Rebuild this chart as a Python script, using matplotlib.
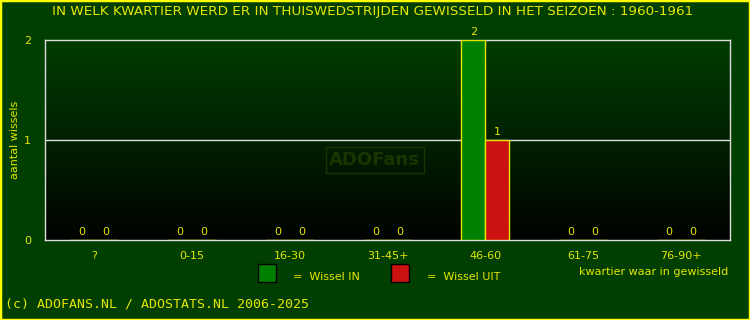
import matplotlib
matplotlib.use("Agg")
import matplotlib.pyplot as plt
import numpy as np
from matplotlib.patches import Rectangle

# Data
categories = ["?", "0-15", "16-30", "31-45+", "46-60", "61-75", "76-90+"]
wissel_in = [0, 0, 0, 0, 2, 0, 0]
wissel_uit = [0, 0, 0, 0, 1, 0, 0]

bg = "#003f00"
yellow = "#e6e600"
green = "#008000"
red = "#cc1111"

fig = plt.figure(figsize=(7.5, 3.2), dpi=100, facecolor=bg)
ax = fig.add_axes([45 / 750, 1 - 240 / 320, 685 / 750, 200 / 320])
ax.set_facecolor(bg)

# gradient background in plot area
grad = np.linspace(1, 0, 256).reshape(-1, 1)
cols = np.zeros((256, 1, 3))
cols[:, 0, 1] = 0.01 + grad[:, 0] * 0.23
ax.imshow(cols, extent=[-0.5, 6.5, 0, 2], aspect="auto", origin="upper", zorder=0)

x = np.arange(len(categories))
w = 0.245
ax.bar(x - w / 2, wissel_in, w, color=green, edgecolor=yellow, linewidth=1, zorder=3)
ax.bar(x + w / 2, wissel_uit, w, color=red, edgecolor=yellow, linewidth=1, zorder=3)

for xi, v in zip(x, wissel_in):
    ax.text(xi - w / 2, v + 0.03, str(v), color=yellow, ha="center", va="bottom", fontsize=8, zorder=4)
for xi, v in zip(x, wissel_uit):
    ax.text(xi + w / 2, v + 0.03, str(v), color=yellow, ha="center", va="bottom", fontsize=8, zorder=4)

ax.axhline(1, color="#dddddd", linewidth=1, zorder=2)

ax.set_xlim(-0.5, 6.5)
ax.set_ylim(0, 2)
ax.set_xticks(x)
ax.set_xticklabels(categories)
ax.set_yticks([0, 1, 2])
ax.tick_params(colors=yellow, labelsize=8, length=0, pad=8)
ax.tick_params(axis="y", pad=10)
for s in ax.spines.values():
    s.set_color("#dddddd")
    s.set_linewidth(1)
ax.set_ylabel("aantal wissels", color=yellow, fontsize=8, labelpad=3)

# watermark
ax.text(2.87, 0.8, "ADOFans", color="#1a3500", fontsize=13, fontweight="bold",
        ha="center", va="center", zorder=1,
        bbox=dict(boxstyle="square,pad=0.2", facecolor="none", edgecolor="#1a3500", linewidth=1))

# title
fig.text(0.497, 1 - 12 / 320, "IN WELK KWARTIER WERD ER IN THUISWEDSTRIJDEN GEWISSELD IN HET SEIZOEN : 1960-1961",
         color=yellow, ha="center", va="center", fontsize=9.7)

# legend
fig.patches.append(Rectangle((258 / 750, 1 - 282 / 320), 18 / 750, 18 / 320, transform=fig.transFigure,
                             facecolor=green, edgecolor="black", linewidth=1))
fig.text(293 / 750, 1 - 277 / 320, "=  Wissel IN", color=yellow, fontsize=8, va="center")
fig.patches.append(Rectangle((391 / 750, 1 - 282 / 320), 18 / 750, 18 / 320, transform=fig.transFigure,
                             facecolor=red, edgecolor="black", linewidth=1))
fig.text(427 / 750, 1 - 277 / 320, "=  Wissel UIT", color=yellow, fontsize=8, va="center")
fig.text(728 / 750, 1 - 272 / 320, "kwartier waar in gewisseld", color=yellow, fontsize=8,
         ha="right", va="center")

fig.text(5 / 750, 1 - 304 / 320, "(c) ADOFANS.NL / ADOSTATS.NL 2006-2025", color=yellow,
         fontsize=9.5, family="DejaVu Sans Mono", va="center")

# yellow border
fig.patches.append(Rectangle((0, 0), 1, 1, transform=fig.transFigure, facecolor="none",
                             edgecolor="#ffff00", linewidth=2.5))

fig.savefig("out.png", dpi=100, facecolor=bg)
